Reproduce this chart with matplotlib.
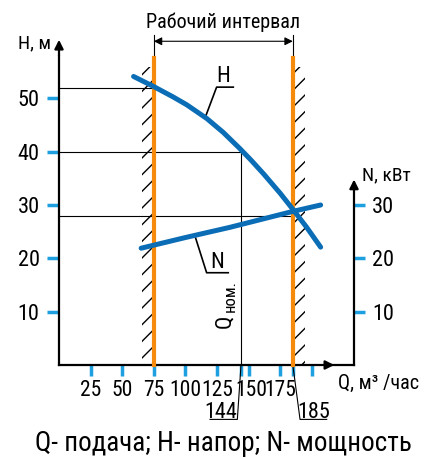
import matplotlib
matplotlib.use("Agg")
import matplotlib.pyplot as plt
from matplotlib.patches import Rectangle
from matplotlib.transforms import ScaledTranslation

plt.rcParams['font.family'] = ['Noto Sans ExtraCondensed', 'Noto Sans Condensed',
                               'Roboto Condensed', 'DejaVu Sans Condensed',
                               'Liberation Sans Narrow', 'Roboto', 'DejaVu Sans']
plt.rcParams['font.stretch'] = 'condensed'
plt.rcParams['hatch.linewidth'] = 1.0

# данные с графика
q_h = [59, 75, 90, 101, 117, 130, 143, 152, 162, 175, 185, 196, 207]
h_vals = [54.1, 52.2, 50.3, 48.8, 46.2, 43.6, 40.6, 38.4, 35.8, 32.2, 29.2, 25.8, 22.1]
q_n = [65, 100, 135, 170, 185, 207]
n_vals = [21.9, 23.9, 25.8, 27.9, 28.8, 30.0]

q_min, q_nom, q_max = 75, 144, 185
h_at_qmin, h_nom, h_at_qmax = 52, 40, 28

x_ticks = [25, 50, 75, 100, 125, 144, 150, 175, 185, 200]
x_labels = ['25', '50', '75', '100', '125', '', '150', '175', '', '']
h_ticks = [10, 20, 30, 40, 50]
n_ticks = [10, 20, 30]

curve_blue = '#0b6db5'
tick_blue = '#1d9fe0'
orange = '#f58a0c'

fig = plt.figure(figsize=(4.27, 4.59), dpi=100)
ax = fig.add_axes([59 / 427, 94 / 459, 295 / 427, 320 / 459])
ax.set_xlim(0, 233.4)
ax.set_ylim(0, 60)
ax.patch.set_visible(False)

ax2 = ax.twinx()
ax2.set_ylim(0, 60)

for s in ['top', 'right']:
    ax.spines[s].set_visible(False)
for s in ['top', 'left', 'bottom']:
    ax2.spines[s].set_visible(False)
ax.spines['left'].set_bounds(0, 58)
ax2.spines['right'].set_bounds(0, 33)
for sp in [ax.spines['left'], ax.spines['bottom'], ax2.spines['right']]:
    sp.set_linewidth(1.6)

ax.set_xticks(x_ticks, x_labels)
ax.set_yticks(h_ticks)
ax2.set_yticks(n_ticks)
ax.tick_params(axis='x', direction='out', length=8, width=2.5, color=tick_blue,
               pad=3, labelsize=15.5)
ax.tick_params(axis='y', direction='out', length=9, width=2.5, color=tick_blue,
               pad=5, labelsize=16)
ax2.tick_params(axis='y', direction='out', length=8, width=2.5, color=tick_blue,
                pad=5, labelsize=16)
# подпись 150 чуть правее, чтобы не мешала линии Qном
lab150 = ax.get_xticklabels()[6]
lab150.set_transform(lab150.get_transform() + ScaledTranslation(0.025, 0, fig.dpi_scale_trans))

# стрелки осей
arrow = dict(arrowstyle='-|>', color='black', lw=1.6, mutation_scale=13)
ax.annotate('', xy=(0, 61.5), xytext=(0, 57.5), arrowprops=arrow, annotation_clip=False)
ax.annotate('', xy=(220, 0), xytext=(210, 0), arrowprops=arrow, annotation_clip=False)
ax2.annotate('', xy=(233.4, 35.3), xytext=(233.4, 32.5), arrowprops=arrow,
             annotation_clip=False)

# штриховка и границы рабочего интервала
hatch_w = 9.5
ax.add_patch(Rectangle((q_min - hatch_w, 0), hatch_w, 55.9, hatch='//', fill=False,
                       edgecolor='black', lw=0, zorder=1))
ax.add_patch(Rectangle((q_max, 0), hatch_w, 55.9, hatch='//', fill=False,
                       edgecolor='black', lw=0, zorder=1))
for q in [q_min, q_max]:
    ax.plot([q, q], [0, 61.9], color='black', lw=0.8, zorder=2, clip_on=False)
    ax.plot([q, q], [0, 57.5], color=orange, lw=3, zorder=3, clip_on=False)
ax.annotate('', xy=(q_min, 60.7), xytext=(q_max, 60.7), annotation_clip=False,
            arrowprops=dict(arrowstyle='<|-|>', color='black', lw=0.8,
                            mutation_scale=12, shrinkA=0, shrinkB=0))
ax.text((q_min + q_max) / 2, 63.2, 'Рабочий интервал', ha='center', va='baseline',
        fontsize=14.5)

# вспомогательные линии
ax.plot([0, q_min], [h_at_qmin, h_at_qmin], color='black', lw=0.8, zorder=2)
ax.plot([0, q_nom], [h_nom, h_nom], color='black', lw=0.8, zorder=2)
ax.plot([0, q_max], [h_at_qmax, h_at_qmax], color='black', lw=0.8, zorder=2)
ax.plot([q_nom, q_nom], [0, h_nom], color='black', lw=0.8, zorder=2)

# выноски под осью
ax.plot([q_nom, q_nom - 2.9, q_nom - 24.5], [0, -10.2, -10.2], color='black', lw=0.8,
        clip_on=False)
ax.plot([q_max, q_max + 5.7, q_max + 26.8], [0, -10.2, -10.2], color='black', lw=0.8,
        clip_on=False)
ax.text(q_nom - 16, -9.9, str(q_nom), ha='center', va='baseline', fontsize=16)
ax.text(q_max + 16.2, -9.9, str(q_max), ha='center', va='baseline', fontsize=16)

ax.text(135.8, 6.9, 'Q', rotation=90, rotation_mode='anchor', ha='left',
        va='baseline', fontsize=16)
ax.text(139.4, 9.9, 'ном.', rotation=90, rotation_mode='anchor', ha='left',
        va='baseline', fontsize=12)

# кривые
ax.plot(q_h, h_vals, color=curve_blue, lw=3.6, solid_capstyle='round', zorder=5)
ax2.plot(q_n, n_vals, color=curve_blue, lw=3.6, solid_capstyle='round', zorder=5)

ax.plot([115.5, 124.7, 137.9], [46.3, 52.1, 52.1], color='black', lw=1.2, zorder=4)
ax.text(130, 53.0, 'H', ha='center', va='baseline', fontsize=16)
ax2.plot([108.1, 116.8, 133.9], [23.8, 17.3, 17.3], color='black', lw=1.2, zorder=4)
ax2.text(125.5, 18.2, 'N', ha='center', va='baseline', fontsize=16)

# подписи осей
fig.text(34 / 427, 1 - 43 / 459, 'H, м', ha='center', va='center', fontsize=14)
fig.text(386 / 427, 1 - 175 / 459, 'N, кВт', ha='center', va='center', fontsize=14)
fig.text(338 / 427, 1 - 389 / 459, 'Q, м³ /час', ha='left', va='baseline', fontsize=14.5)
fig.text(223 / 427, 1 - 451 / 459, 'Q- подача; H- напор; N- мощность', ha='center',
         va='baseline', fontsize=19.5)

fig.savefig('out.png', dpi=100)
